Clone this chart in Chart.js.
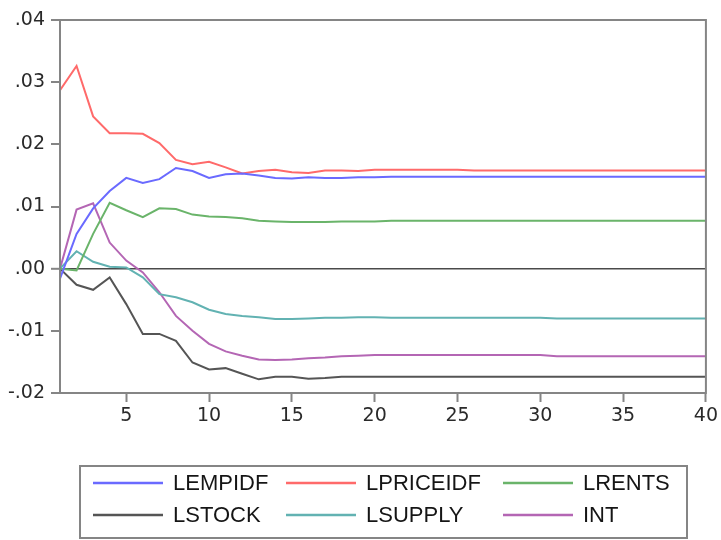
<!DOCTYPE html>
<html>
<head>
<meta charset="utf-8">
<script src="https://cdn.jsdelivr.net/npm/chart.js@4.4.0/dist/chart.umd.min.js"></script>
<style>
  html, body { margin: 0; padding: 0; background: #fff; }
  #wrap { width: 721px; height: 540px; }
</style>
</head>
<body>
<div id="wrap"><canvas id="chart" width="721" height="540"></canvas></div>
<script>
// periods after the shock
const periods = [1, 2, 3, 4, 5, 6, 7, 8, 9, 10,
  11, 12, 13, 14, 15, 16, 17, 18, 19, 20,
  21, 22, 23, 24, 25, 26, 27, 28, 29, 30,
  31, 32, 33, 34, 35, 36, 37, 38, 39, 40];

const xTicks = [5, 10, 15, 20, 25, 30, 35, 40];
const yTicks = [-0.02, -0.01, 0, 0.01, 0.02, 0.03, 0.04];

const lempidf = [-0.0016, 0.0056, 0.0097, 0.0125, 0.0146, 0.0138, 0.0144, 0.0162, 0.0157, 0.0146,
  0.0152, 0.0153, 0.0150, 0.0146, 0.0145, 0.0147, 0.0146, 0.0146, 0.0147, 0.0147,
  0.0148, 0.0148, 0.0148, 0.0148, 0.0148, 0.0148, 0.0148, 0.0148, 0.0148, 0.0148,
  0.0148, 0.0148, 0.0148, 0.0148, 0.0148, 0.0148, 0.0148, 0.0148, 0.0148, 0.0148];

const lpriceidf = [0.0287, 0.0326, 0.0245, 0.0218, 0.0218, 0.0217, 0.0202, 0.0175, 0.0168, 0.0172,
  0.0163, 0.0153, 0.0157, 0.0159, 0.0155, 0.0154, 0.0158, 0.0158, 0.0157, 0.0159,
  0.0159, 0.0159, 0.0159, 0.0159, 0.0159, 0.0158, 0.0158, 0.0158, 0.0158, 0.0158,
  0.0158, 0.0158, 0.0158, 0.0158, 0.0158, 0.0158, 0.0158, 0.0158, 0.0158, 0.0158];

const lrents = [0, -0.0003, 0.0056, 0.0106, 0.0094, 0.0083, 0.0097, 0.0096, 0.0087, 0.0084,
  0.0083, 0.0081, 0.0077, 0.0076, 0.0075, 0.0075, 0.0075, 0.0076, 0.0076, 0.0076,
  0.0077, 0.0077, 0.0077, 0.0077, 0.0077, 0.0077, 0.0077, 0.0077, 0.0077, 0.0077,
  0.0077, 0.0077, 0.0077, 0.0077, 0.0077, 0.0077, 0.0077, 0.0077, 0.0077, 0.0077];

const lstock = [0, -0.0026, -0.0034, -0.0014, -0.0057, -0.0105, -0.0105, -0.0116, -0.0151, -0.0162,
  -0.0160, -0.0169, -0.0178, -0.0174, -0.0174, -0.0177, -0.0176, -0.0174, -0.0174, -0.0174,
  -0.0174, -0.0174, -0.0174, -0.0174, -0.0174, -0.0174, -0.0174, -0.0174, -0.0174, -0.0174,
  -0.0174, -0.0174, -0.0174, -0.0174, -0.0174, -0.0174, -0.0174, -0.0174, -0.0174, -0.0174];

const lsupply = [0, 0.0028, 0.0011, 0.0003, 0.0002, -0.0014, -0.0041, -0.0046, -0.0054, -0.0066,
  -0.0073, -0.0076, -0.0078, -0.0081, -0.0081, -0.0080, -0.0079, -0.0079, -0.0078, -0.0078,
  -0.0079, -0.0079, -0.0079, -0.0079, -0.0079, -0.0079, -0.0079, -0.0079, -0.0079, -0.0079,
  -0.0080, -0.0080, -0.0080, -0.0080, -0.0080, -0.0080, -0.0080, -0.0080, -0.0080, -0.0080];

const intr = [0, 0.0095, 0.0105, 0.0042, 0.0013, -0.0006, -0.0038, -0.0076, -0.0100, -0.0121,
  -0.0133, -0.0140, -0.0146, -0.0147, -0.0146, -0.0144, -0.0143, -0.0141, -0.0140, -0.0139,
  -0.0139, -0.0139, -0.0139, -0.0139, -0.0139, -0.0139, -0.0139, -0.0139, -0.0139, -0.0139,
  -0.0141, -0.0141, -0.0141, -0.0141, -0.0141, -0.0141, -0.0141, -0.0141, -0.0141, -0.0141];

const seriesNames = ["LEMPIDF", "LPRICEIDF", "LRENTS", "LSTOCK", "LSUPPLY", "INT"];
const seriesData = [lempidf, lpriceidf, lrents, lstock, lsupply, intr];
const seriesColors = ["#6a6aff", "#ff6a6a", "#6ab46a", "#555555", "#62b2b2", "#b466b4"];

const frameColor = "#858585";

function fmtTick(v) {
  let s = Math.abs(v).toFixed(2).replace(/^0/, "");
  return (v < 0 ? "-" : "") + s;
}

// box round the plot area
const framePlugin = {
  id: "frame",
  afterDatasetsDraw(chart) {
    let a = chart.chartArea;
    let ctx = chart.ctx;
    ctx.save();
    ctx.strokeStyle = frameColor;
    ctx.lineWidth = 2;
    ctx.strokeRect(a.left, a.top, a.right - a.left, a.bottom - a.top);
    ctx.restore();
  }
};

// eviews style legend: 3 columns x 2 rows in a box
const legendPlugin = {
  id: "gridLegend",
  afterDraw(chart) {
    let ctx = chart.ctx;
    let box = { left: 80, top: 466, right: 687, bottom: 538 };
    let colX = [93, 286, 503];
    let rowY = [483, 515];
    ctx.save();
    ctx.strokeStyle = frameColor;
    ctx.lineWidth = 2;
    ctx.strokeRect(box.left, box.top, box.right - box.left, box.bottom - box.top);
    ctx.font = "22px 'Liberation Sans', Arial, sans-serif";
    ctx.textBaseline = "middle";
    ctx.fillStyle = "#151515";
    chart.data.datasets.forEach((ds, i) => {
      let cx = colX[i % 3];
      let cy = rowY[Math.floor(i / 3)];
      ctx.strokeStyle = ds.borderColor;
      ctx.lineWidth = 2.5;
      ctx.beginPath();
      ctx.moveTo(cx, cy);
      ctx.lineTo(cx + 70, cy);
      ctx.stroke();
      ctx.fillText(ds.label, cx + 80, cy + 1);
    });
    ctx.restore();
  }
};

let datasets = seriesNames.map((name, i) => ({
  label: name,
  data: seriesData[i],
  borderColor: seriesColors[i],
  backgroundColor: seriesColors[i],
  borderWidth: 2,
  pointRadius: 0,
  tension: 0,
  fill: false
}));

let tickFont = { family: "'DejaVu Sans', sans-serif", size: 19 };

new Chart(document.getElementById("chart"), {
  type: "line",
  data: { labels: periods, datasets: datasets },
  options: {
    responsive: false,
    animation: false,
    layout: { padding: { left: 0, top: 20, right: 14, bottom: 107 } },
    plugins: {
      legend: { display: false },
      tooltip: { enabled: false },
      title: { display: false }
    },
    scales: {
      x: {
        type: "linear",
        min: 1,
        max: 40,
        afterBuildTicks: (axis) => { axis.ticks = xTicks.map((v) => ({ value: v })); },
        afterFit: (axis) => { axis.height = 40; },
        grid: { drawOnChartArea: false, drawTicks: true, tickLength: 9, tickColor: frameColor, tickWidth: 2 },
        border: { display: true, color: frameColor, width: 2 },
        ticks: { color: "#2a2a2a", font: tickFont, padding: 3, maxRotation: 0, autoSkip: false }
      },
      y: {
        min: -0.02,
        max: 0.04,
        afterBuildTicks: (axis) => { axis.ticks = yTicks.map((v) => ({ value: v })); },
        afterFit: (axis) => { axis.width = 60; },
        grid: {
          drawTicks: true,
          tickLength: 9,
          tickColor: frameColor,
          tickWidth: 2,
          color: (c) => (c.tick && c.tick.value === 0 ? "#4a4a4a" : "rgba(0,0,0,0)"),
          lineWidth: (c) => (c.tick && c.tick.value === 0 ? 1.6 : 0)
        },
        border: { display: true, color: frameColor, width: 2 },
        ticks: { color: "#2a2a2a", font: tickFont, padding: 6, callback: (v) => fmtTick(v) }
      }
    }
  },
  plugins: [framePlugin, legendPlugin]
});
</script>
</body>
</html>
